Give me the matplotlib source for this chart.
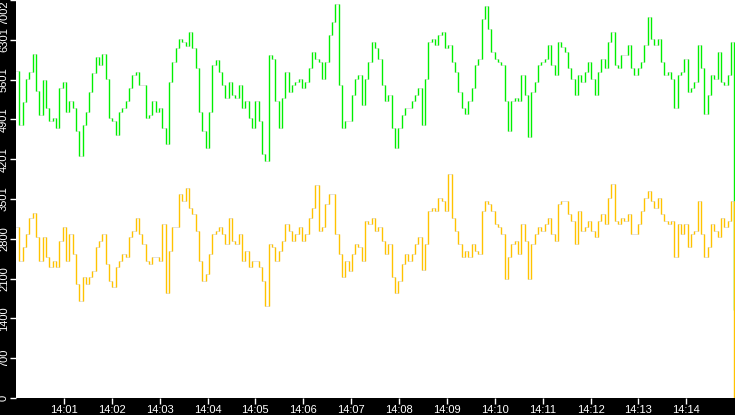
import numpy as np
import pandas as pd
import matplotlib
matplotlib.use("Agg")
import matplotlib.pyplot as plt
import matplotlib.dates as mdates

plt.rcParams["font.family"] = ["Liberation Sans", "DejaVu Sans"]

# values, about one sample every 4 seconds
green = [
    5750, 4800, 5200, 5620, 5740, 6060, 5400, 4980, 5600, 5100,
    4870, 4920, 4750, 5450, 5560, 5040, 5220, 5100, 4690, 4250,
    4810, 5040, 5390, 5710, 6000, 5860, 6050, 5620, 4920, 4870,
    4630, 5040, 5100, 5220, 5450, 5680, 5740, 5510, 5510, 4920,
    4980, 5220, 5040, 5100, 4750, 4460, 5560, 5910, 6150, 6320,
    6270, 6200, 6440, 6150,
    5800, 5040, 4690, 4400, 5040, 5860, 5940, 5740, 5510, 5270,
    5560, 5330, 5270, 5510, 5100, 5220, 4920, 4750, 5220, 4870,
    4300, 4170, 6030, 5970, 5220, 4750, 5270, 5740, 5390, 5510,
    5560, 5620, 5450, 5560, 5800, 6090, 5970, 5910, 5620, 5910,
    6380, 6610, 6940, 5510, 4750, 4870, 4870, 5330, 5620, 5680,
    5160, 5620, 5910, 6270,
    6150, 5970, 5510, 5220, 5330, 4750, 4400, 4750, 4980, 5100,
    5100, 5220, 5330, 5450, 4800, 5620, 6270, 6320, 6210, 6380,
    6440, 6150, 6210, 5910, 5740, 5390, 5100, 5000, 5220, 5450,
    5860, 5970, 6670, 6900, 6500, 6090, 5970, 5910, 5860, 5220,
    4700, 5220, 5270, 5220, 5680, 5330, 4600, 5390, 5560, 5860,
    5910, 5970, 6210, 5860,
    5680, 6270, 6180, 6090, 5800, 5620, 5330, 5680, 5560, 5740,
    5910, 5620, 5330, 5740, 5970, 5800, 6270, 6440, 5860, 5800,
    6030, 6030, 6210, 5800, 5680, 5800, 5910, 6210, 6700, 6320,
    6210, 6320, 5910, 5680, 5740, 5620, 5100, 5680, 5740, 5970,
    5390, 5450, 5560, 6210, 5800, 5000, 5330, 5680, 5620, 6090,
    5560, 5510, 5680, 6270,
    1540,
]

yellow = [
    3000, 2416, 2650, 2883, 3175, 3260, 2825, 2416, 2825, 2475,
    2300, 2416, 2300, 2766, 3000, 2416, 2883, 2533, 2008, 1700,
    2125, 2008, 2125, 2240, 2650, 2766, 2883, 2358, 2066, 1950,
    2300, 2416, 2533, 2475, 2825, 2940, 3175, 2883, 2708, 2416,
    2358, 2475, 2475, 2416, 3060, 1850, 2590, 3000, 3000, 3583,
    3466, 3700, 3350, 3233,
    2940, 2416, 2066, 2183, 2533, 2883, 2940, 3000, 2883, 2708,
    3175, 2766, 2708, 2883, 2416, 2590, 2300, 2416, 2416, 2300,
    2066, 1620, 2708, 2650, 2416, 2590, 2766, 3060, 2940, 2766,
    2883, 3000, 2766, 2883, 3175, 3350, 3750, 2940, 3000, 3408,
    3583, 3583, 2883, 2533, 2125, 2416, 2240, 2533, 2708, 2650,
    2416, 3116, 3060, 3175,
    2940, 3000, 2766, 2533, 2708, 2125, 1850, 2066, 2358, 2533,
    2416, 2533, 2708, 2825, 2250, 2708, 3290, 3350, 3290, 3525,
    3466, 3290, 3933, 3175, 2940, 2708, 2475, 2590, 2475, 2708,
    2590, 2533, 3290, 3466, 3408, 3290, 3060, 3000, 2883, 2100,
    2475, 2708, 2766, 2533, 3060, 2766, 2100, 2708, 2883, 3000,
    2940, 3060, 3175, 2883,
    2766, 3408, 3466, 3466, 3233, 3116, 2708, 3290, 2940, 3000,
    3116, 2940, 2825, 3116, 3233, 3060, 3525, 3758, 3116, 3060,
    3175, 3116, 3233, 2883, 2883, 3060, 3290, 3525, 3641, 3466,
    3350, 3525, 3233, 3116, 3060, 3116, 2475, 3060, 2883, 3060,
    2650, 2883, 2940, 3466, 2883, 2475, 2650, 3060, 2940, 2825,
    3175, 3000, 3116, 3466,
    0,
]

y_max = 7002
tick_minutes = ["14:%02d" % m for m in range(1, 15)]

times = pd.date_range("2024-01-01 14:00:00", "2024-01-01 14:15:00", periods=len(green))

fig = plt.figure(figsize=(7.35, 4.15), dpi=100, facecolor="black")
ax = fig.add_axes([16 / 735, 17 / 415, 719 / 735, 398 / 415])
ax.set_facecolor("white")

# faint grey steps, coloured rises and falls
for series, color in [(green, "#00f000"), (yellow, "#ffc300")]:
    v = np.array(series, dtype=float)
    ax.step(times, v, where="post", color="#cccccc", lw=0.4)
    ax.vlines(times[1:], np.minimum(v[:-1], v[1:]), np.maximum(v[:-1], v[1:]),
              color=color, lw=1.0)

# a second of slack so the last drop is not cut in half by the edge
ax.set_xlim(times[0], times[-1] + pd.Timedelta(seconds=1))
ax.set_ylim(0, y_max)

yticks = [y_max * i / 10 for i in range(11)]
ax.set_yticks(yticks)
ylabels = ax.set_yticklabels([str(int(t)) for t in yticks], rotation=90, va="center")
ylabels[-1].set_va("top")

ax.set_xticks([pd.Timestamp("2024-01-01 " + t) for t in tick_minutes])
ax.xaxis.set_major_formatter(mdates.DateFormatter("%H:%M"))

ax.tick_params(axis="both", colors="white", direction="out", length=4, width=1)
ax.tick_params(axis="y", labelsize=8, pad=1)
ax.tick_params(axis="x", labelsize=8, pad=1)
for s in ax.spines.values():
    s.set_visible(False)

fig.savefig("out.png", dpi=100, facecolor="black")
